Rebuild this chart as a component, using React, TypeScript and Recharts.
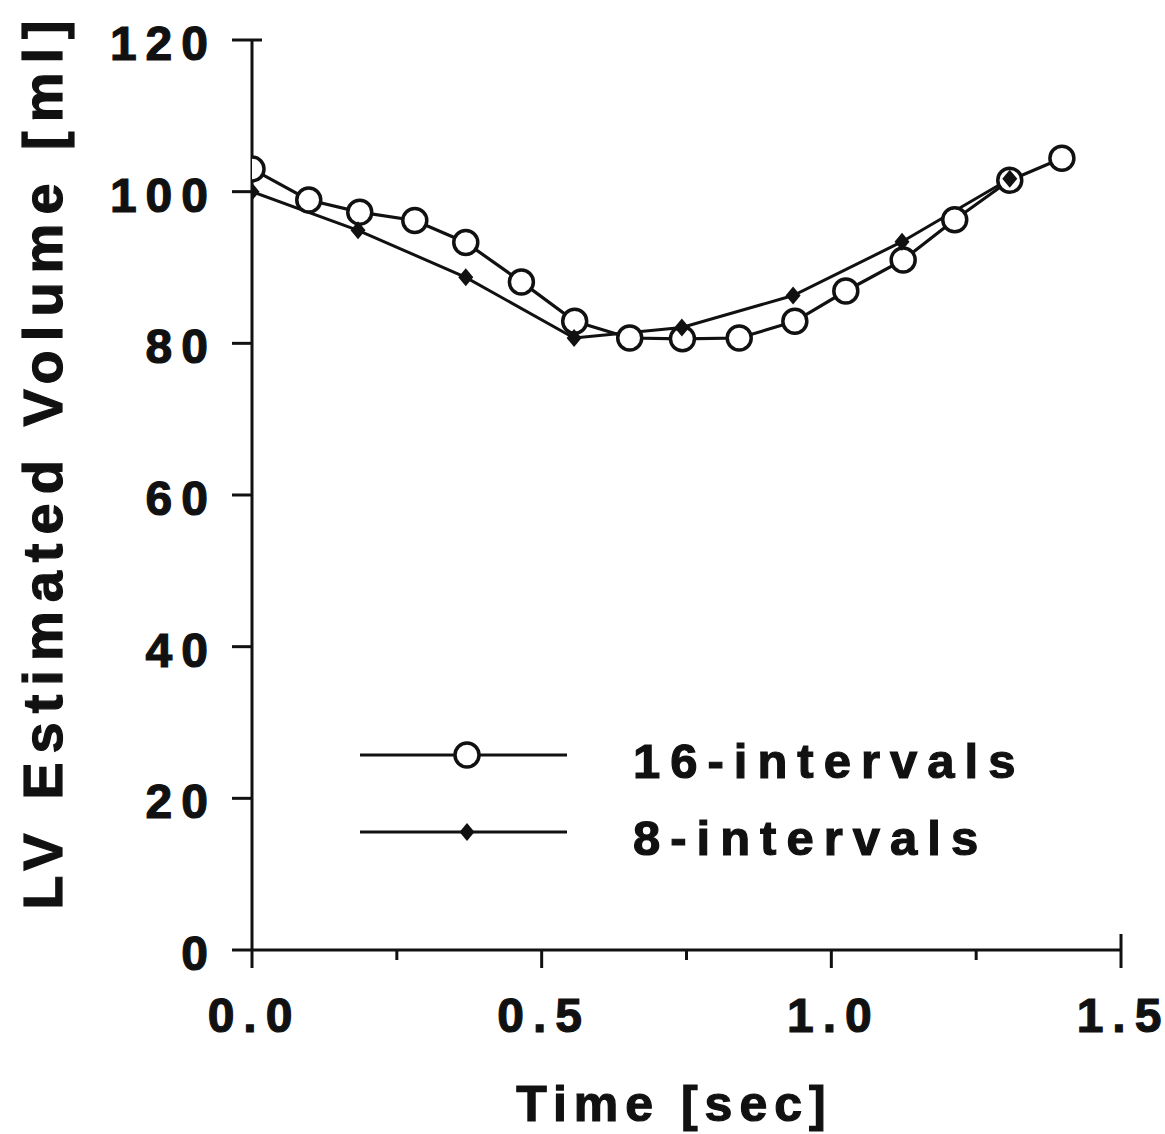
import React from "react";
import { LineChart, Line, XAxis, YAxis, Legend } from "recharts";

const time16 = [0, 0.098, 0.186, 0.281, 0.369, 0.465, 0.557, 0.652, 0.743, 0.841, 0.937, 1.025, 1.124, 1.213, 1.308, 1.398];
const volume16 = [103.0, 98.9, 97.3, 96.2, 93.3, 88.1, 82.9, 80.7, 80.6, 80.7, 82.9, 86.9, 91.0, 96.3, 101.5, 104.4];
const time8 = [0, 0.183, 0.369, 0.556, 0.742, 0.934, 1.122, 1.308];
const volume8 = [100.0, 94.9, 88.7, 80.7, 82.1, 86.3, 93.4, 101.7];

const xTicks = [0, 0.25, 0.5, 0.75, 1.0, 1.25, 1.5];
const xTickLabels = ["0.0", "", "0.5", "", "1.0", "", "1.5"];
const yTicks = [0, 20, 40, 60, 80, 100, 120];
const seriesNames = ["16-intervals", "8-intervals"];

const data16 = time16.map((t, i) => ({ t, v: volume16[i] }));
const data8 = time8.map((t, i) => ({ t, v: volume8[i] }));

const FONT = "'Liberation Sans', Arial, Helvetica, sans-serif";
const INK = "#111";

// bold type with a thin outline to thicken it like the printed figure
const textStyle = { fontFamily: FONT, fontWeight: "bold" as const, fill: INK, stroke: INK, strokeWidth: 1.2 };

// spaced text without trailing space after the last glyph
const Spaced = ({ s }: { s: string }) => (
  <>
    <tspan>{s.slice(0, -1)}</tspan>
    <tspan letterSpacing={0}>{s.slice(-1)}</tspan>
  </>
);

const CircleDot = (props: any) => {
  const { cx, cy } = props;
  if (cx == null || cy == null) return null;
  return <circle cx={cx} cy={cy} r={12} fill="#fff" stroke={INK} strokeWidth={3.5} />;
};

const DiamondDot = (props: any) => {
  const { cx, cy } = props;
  if (cx == null || cy == null) return null;
  return (
    <polygon
      points={`${cx},${cy - 9} ${cx + 7.5},${cy} ${cx},${cy + 9} ${cx - 7.5},${cy}`}
      fill={INK}
    />
  );
};

const XTick = (props: any) => {
  const { x, y, index } = props;
  const label = xTickLabels[index] ?? "";
  const major = label !== "";
  const last = index === xTicks.length - 1;
  return (
    <g>
      <line x1={x} x2={x} y1={last ? y - 34 : y - 18} y2={major ? y : y - 8} stroke={INK} strokeWidth={3} />
      {major && (
        <text x={x - 2} y={y} dy={64} textAnchor="middle" fontSize={48} letterSpacing={9} {...textStyle}>
          <Spaced s={label} />
        </text>
      )}
    </g>
  );
};

const YTick = (props: any) => {
  const { x, y, payload } = props;
  const top = payload.value === 120;
  return (
    <g>
      <line x1={x} x2={top ? x + 30 : x + 20} y1={y} y2={y} stroke={INK} strokeWidth={3} />
      <text x={x - 24} y={y} dy={20} textAnchor="end" fontSize={48} letterSpacing={9} {...textStyle}>
        <Spaced s={String(payload.value)} />
      </text>
    </g>
  );
};

const YTitle = () => (
  <text
    x={0}
    y={0}
    transform="translate(62 465) rotate(-90)"
    textAnchor="middle"
    fontSize={56}
    letterSpacing={9}
    {...textStyle}
  >
    <Spaced s="LV Estimated Volume [ml]" />
  </text>
);

const XTitle = () => (
  <text x={671} y={1121} textAnchor="middle" fontSize={50} letterSpacing={7} {...textStyle}>
    <Spaced s="Time [sec]" />
  </text>
);

const LegendBox = () => (
  <svg width={700} height={170} style={{ display: "block" }}>
    {seriesNames.map((name, i) => {
      const ly = i === 0 ? 55 : 132;
      return (
        <g key={name}>
          <line x1={20} x2={227} y1={ly} y2={ly} stroke={INK} strokeWidth={3.2} />
          {i === 0 ? <CircleDot cx={127} cy={ly} /> : <DiamondDot cx={127} cy={ly} />}
          <text x={293} y={ly + 23} fontSize={49} letterSpacing={10} {...textStyle}>
            <Spaced s={name} />
          </text>
        </g>
      );
    })}
  </svg>
);

export default function App() {
  return (
    <div style={{ width: 1165, height: 1134, background: "#fff", position: "relative" }}>
      <style>{"body{margin:0;background:#fff}"}</style>
      <LineChart width={1165} height={1134} margin={{ top: 40, right: 44, bottom: 0, left: 0 }}>
        <XAxis
          type="number"
          dataKey="t"
          domain={[0, 1.5]}
          ticks={xTicks}
          allowDataOverflow
          height={184}
          tickSize={18}
          tickMargin={0}
          tickLine={false}
          axisLine={{ stroke: INK, strokeWidth: 3 }}
          tick={<XTick />}
          interval={0}
          label={<XTitle />}
        />
        <YAxis
          type="number"
          dataKey="v"
          domain={[0, 120]}
          ticks={yTicks}
          width={252}
          tickSize={20}
          tickMargin={0}
          tickLine={false}
          axisLine={{ stroke: INK, strokeWidth: 3 }}
          tick={<YTick />}
          interval={0}
          label={<YTitle />}
        />
        <Legend
          layout="vertical"
          align="center"
          verticalAlign="middle"
          content={<LegendBox />}
          wrapperStyle={{ left: 340, top: 700, width: 700, height: 170 }}
        />
        <Line
          data={data16}
          dataKey="v"
          name={seriesNames[0]}
          stroke={INK}
          strokeWidth={3.2}
          dot={<CircleDot />}
          activeDot={false}
          isAnimationActive={false}
        />
        <Line
          data={data8}
          dataKey="v"
          name={seriesNames[1]}
          stroke={INK}
          strokeWidth={3}
          dot={<DiamondDot />}
          activeDot={false}
          isAnimationActive={false}
        />
      </LineChart>
    </div>
  );
}
